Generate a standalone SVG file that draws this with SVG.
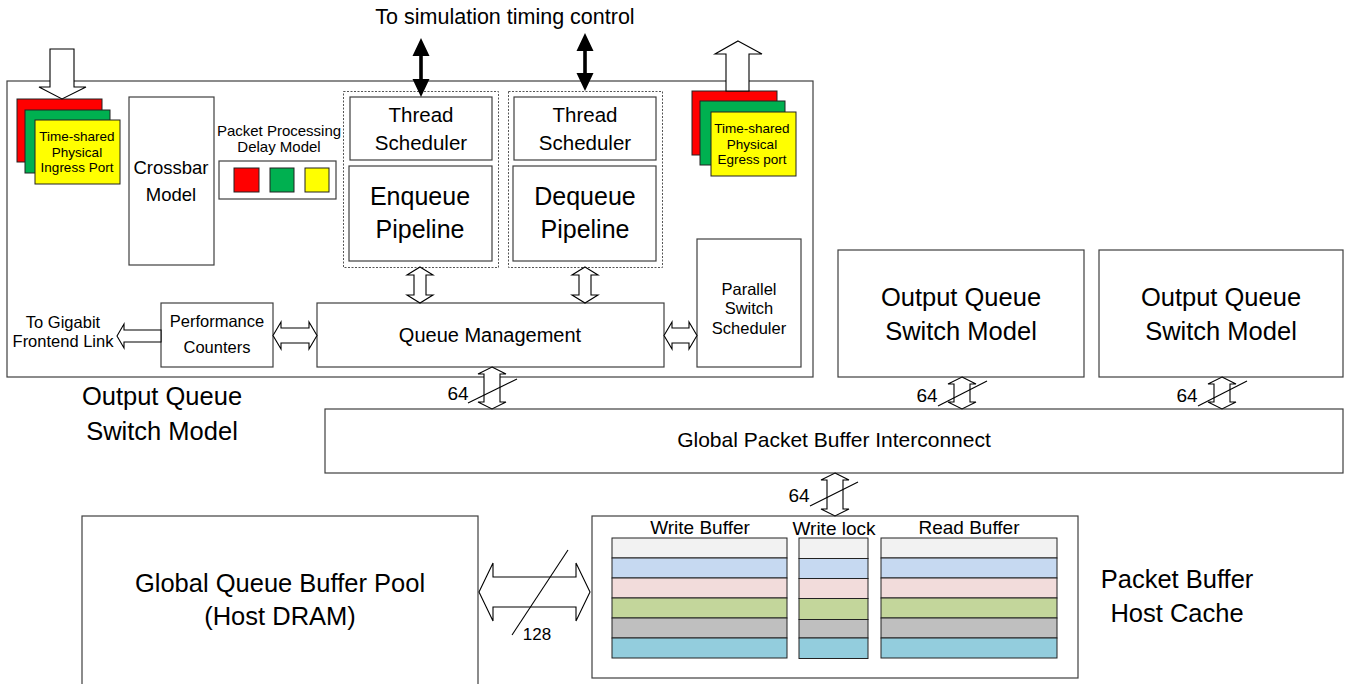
<svg xmlns="http://www.w3.org/2000/svg" width="1359" height="684" viewBox="0 0 1359 684">
<style>
text{font-family:"Liberation Sans",Arial,sans-serif;fill:#000;text-anchor:middle}
.box{fill:#fff;stroke:#3f3f3f;stroke-width:1.2}
.dash{fill:none;stroke:#555;stroke-width:1;stroke-dasharray:2,1.5}
.hollow{fill:#fff;stroke:#000;stroke-width:1.1}
.slash{stroke:#000;stroke-width:1.1;fill:none}
.blk{fill:#000;stroke:none}
.rowc{stroke:#222;stroke-width:1}
.t13{font-size:13.5px}
.t16{font-size:16.5px}
.t18{font-size:18px}
.t19{font-size:19px}
.t20{font-size:20.5px}
.t25{font-size:25px}
.t26{font-size:25.5px}
</style>

<g id="title-timing"><text class="t20" x="505" y="24" style="font-size:21.5px">To simulation timing control</text></g>

<g id="outer-switch">
<rect class="box" x="7" y="81" width="806" height="296"/>
<text class="t26" x="162" y="405">Output Queue</text>
<text class="t26" x="162" y="440">Switch Model</text>
</g>

<g id="ingress-port">
<rect x="17" y="99" width="85" height="63" fill="#ff0000" stroke="#222"/>
<rect x="25" y="110" width="85" height="63" fill="#00b050" stroke="#222"/>
<rect x="35" y="120" width="85" height="64" fill="#ffff00" stroke="#222"/>
<text class="t13" x="77" y="141">Time-shared</text>
<text class="t13" x="77" y="157">Physical</text>
<text class="t13" x="77" y="172">Ingress Port</text>
</g>

<g id="crossbar">
<rect class="box" x="129" y="97" width="85" height="168"/>
<text x="171" y="174" style="font-size:18.5px">Crossbar</text>
<text x="171" y="201" style="font-size:18.5px">Model</text>
</g>

<g id="delay-model">
<text x="279" y="136" style="font-size:15px">Packet Processing</text>
<text x="279" y="152" style="font-size:15px">Delay Model</text>
<rect class="box" x="219" y="161" width="117" height="38"/>
<rect x="234" y="168" width="25" height="24" fill="#ff0000" stroke="#222"/>
<rect x="270" y="168" width="24" height="24" fill="#00b050" stroke="#222"/>
<rect x="305" y="168" width="24" height="24" fill="#ffff00" stroke="#222"/>
</g>

<g id="enqueue">
<rect class="dash" x="343.5" y="91.5" width="155" height="176"/>
<rect class="box" x="350" y="97" width="142" height="63"/>
<text class="t20" x="421" y="122">Thread</text>
<text class="t20" x="421" y="150">Scheduler</text>
<rect class="box" x="349" y="166" width="143" height="95"/>
<text class="t25" x="420" y="205">Enqueue</text>
<text class="t25" x="420" y="238">Pipeline</text>
</g>

<g id="dequeue">
<rect class="dash" x="508.5" y="91.5" width="154" height="176"/>
<rect class="box" x="514" y="97" width="142" height="63"/>
<text class="t20" x="585" y="122">Thread</text>
<text class="t20" x="585" y="150">Scheduler</text>
<rect class="box" x="513" y="166" width="143" height="95"/>
<text class="t25" x="585" y="205">Dequeue</text>
<text class="t25" x="585" y="238">Pipeline</text>
</g>

<g id="egress-port">
<rect x="692" y="91" width="85" height="64" fill="#ff0000" stroke="#222"/>
<rect x="700" y="101" width="85" height="64" fill="#00b050" stroke="#222"/>
<rect x="711" y="112" width="85" height="64" fill="#ffff00" stroke="#222"/>
<text class="t13" x="752" y="133">Time-shared</text>
<text class="t13" x="752" y="149">Physical</text>
<text class="t13" x="752" y="164">Egress port</text>
</g>

<g id="parallel-scheduler">
<rect class="box" x="697" y="239" width="104" height="128"/>
<text class="t16" x="749" y="295">Parallel</text>
<text class="t16" x="749" y="314">Switch</text>
<text class="t16" x="749" y="334">Scheduler</text>
</g>

<g id="queue-management">
<rect class="box" x="317" y="303" width="347" height="64"/>
<text x="490" y="342" style="font-size:20px">Queue Management</text>
</g>

<g id="performance-counters">
<rect class="box" x="161" y="303" width="112" height="64"/>
<text class="t16" x="217" y="327">Performance</text>
<text class="t16" x="217" y="353">Counters</text>
<text class="t16" x="63" y="328">To Gigabit</text>
<text class="t16" x="63" y="347">Frontend Link</text>
</g>

<g id="oq-switch-2">
<rect class="box" x="838" y="250" width="246" height="127"/>
<text class="t26" x="961" y="306">Output Queue</text>
<text class="t26" x="961" y="340">Switch Model</text>
</g>

<g id="oq-switch-3">
<rect class="box" x="1099" y="250" width="244" height="127"/>
<text class="t26" x="1221" y="306">Output Queue</text>
<text class="t26" x="1221" y="340">Switch Model</text>
</g>

<g id="interconnect">
<rect class="box" x="325" y="409" width="1018" height="64"/>
<text x="834" y="447" style="font-size:21px">Global Packet Buffer Interconnect</text>
</g>

<g id="queue-buffer-pool">
<rect class="box" x="82" y="516" width="396" height="175"/>
<text class="t26" x="280" y="592">Global Queue Buffer Pool</text>
<text class="t26" x="280" y="625">(Host DRAM)</text>
</g>

<g id="host-cache">
<rect class="box" x="592" y="516" width="486" height="162"/>
<text x="700" y="534" style="font-size:19px">Write Buffer</text>
<text x="834" y="535" style="font-size:19px">Write lock</text>
<text x="969" y="534" style="font-size:19px">Read Buffer</text>
<g class="rowc">
<rect x="612" y="538" width="175" height="20" fill="#f2f2f2"/>
<rect x="612" y="558" width="175" height="20" fill="#c6d9f1"/>
<rect x="612" y="578" width="175" height="20" fill="#f2dcdb"/>
<rect x="612" y="598" width="175" height="20" fill="#c3d69b"/>
<rect x="612" y="618" width="175" height="20" fill="#bfbfbf"/>
<rect x="612" y="638" width="175" height="20" fill="#93cddd"/>
<rect x="799" y="538" width="69" height="20.5" fill="#f2f2f2"/>
<rect x="799" y="558.5" width="69" height="20" fill="#c6d9f1"/>
<rect x="799" y="578.5" width="69" height="20" fill="#f2dcdb"/>
<rect x="799" y="598.5" width="69" height="21" fill="#c3d69b"/>
<rect x="799" y="619.5" width="69" height="18.5" fill="#bfbfbf"/>
<rect x="799" y="638" width="69" height="20.5" fill="#93cddd"/>
<rect x="881" y="538" width="176" height="20" fill="#f2f2f2"/>
<rect x="881" y="558" width="176" height="20" fill="#c6d9f1"/>
<rect x="881" y="578" width="176" height="20" fill="#f2dcdb"/>
<rect x="881" y="598" width="176" height="20" fill="#c3d69b"/>
<rect x="881" y="618" width="176" height="20" fill="#bfbfbf"/>
<rect x="881" y="638" width="176" height="20" fill="#93cddd"/>
</g>
<text class="t26" x="1177" y="588">Packet Buffer</text>
<text class="t26" x="1177" y="622">Host Cache</text>
</g>

<g id="connectors">
<path class="hollow" d="M50,49 L74,49 L74,87 L86,87 L62,99 L39,87 L50,87 Z"/>
<path class="hollow" d="M738,41 L762,54 L749,54 L749,91 L726,91 L726,54 L715,54 Z"/>
<rect class="blk" x="419.2" y="52" width="3.6" height="30"/>
<path class="blk" d="M421,38 L429.5,56 L412.5,56 Z M421,97 L429.5,79 L412.5,79 Z"/>
<rect class="blk" x="583.2" y="47" width="3.6" height="30"/>
<path class="blk" d="M585,33 L593.5,51 L576.5,51 Z M585,91 L593.5,73 L576.5,73 Z"/>
<path class="hollow" d="M420,267 L433,275 L426,275 L426,295 L433,295 L420,303 L407,295 L414,295 L414,275 L407,275 Z"/>
<path class="hollow" d="M585,267 L598,275 L591,275 L591,295 L598,295 L585,303 L572,295 L579,295 L579,275 L572,275 Z"/>
<path class="hollow" d="M273,335.5 L281,322 L281,328 L309,328 L309,322 L317,335.5 L309,349 L309,343 L281,343 L281,349 Z"/>
<path class="hollow" d="M664,335.5 L672,322 L672,328 L689,328 L689,322 L697,335.5 L689,349 L689,343 L672,343 L672,349 Z"/>
<path class="hollow" d="M117,336 L124,324 L124,330 L161,330 L161,342 L124,342 L124,348 Z"/>
<path class="hollow" d="M492,367 L506,374 L500,374 L500,402 L506,402 L492,409 L478,402 L484,402 L484,374 L478,374 Z"/>
<line class="slash" x1="468" y1="403" x2="517" y2="379"/>
<text class="t19" x="458" y="400">64</text>
<path class="hollow" d="M962,377 L976,384 L970,384 L970,402 L976,402 L962,409 L948,402 L954,402 L954,384 L948,384 Z"/>
<line class="slash" x1="938" y1="406" x2="987" y2="381"/>
<text class="t19" x="927" y="402">64</text>
<path class="hollow" d="M1222,377 L1236,384 L1230,384 L1230,402 L1236,402 L1222,409 L1208,402 L1214,402 L1214,384 L1208,384 Z"/>
<line class="slash" x1="1198" y1="406" x2="1247" y2="381"/>
<text class="t19" x="1187" y="402">64</text>
<path class="hollow" d="M835,473 L849,480 L843,480 L843,509 L849,509 L835,516 L821,509 L827,509 L827,480 L821,480 Z"/>
<line class="slash" x1="810" y1="506" x2="858" y2="482"/>
<text class="t19" x="799" y="502">64</text>
<path class="hollow" d="M479,592 L493,563 L493,577 L576,577 L576,563 L590,592 L576,621 L576,607 L493,607 L493,621 Z"/>
<line class="slash" x1="512" y1="635" x2="568" y2="550"/>
<text x="537" y="640" style="font-size:17px">128</text>
</g>
</svg>
